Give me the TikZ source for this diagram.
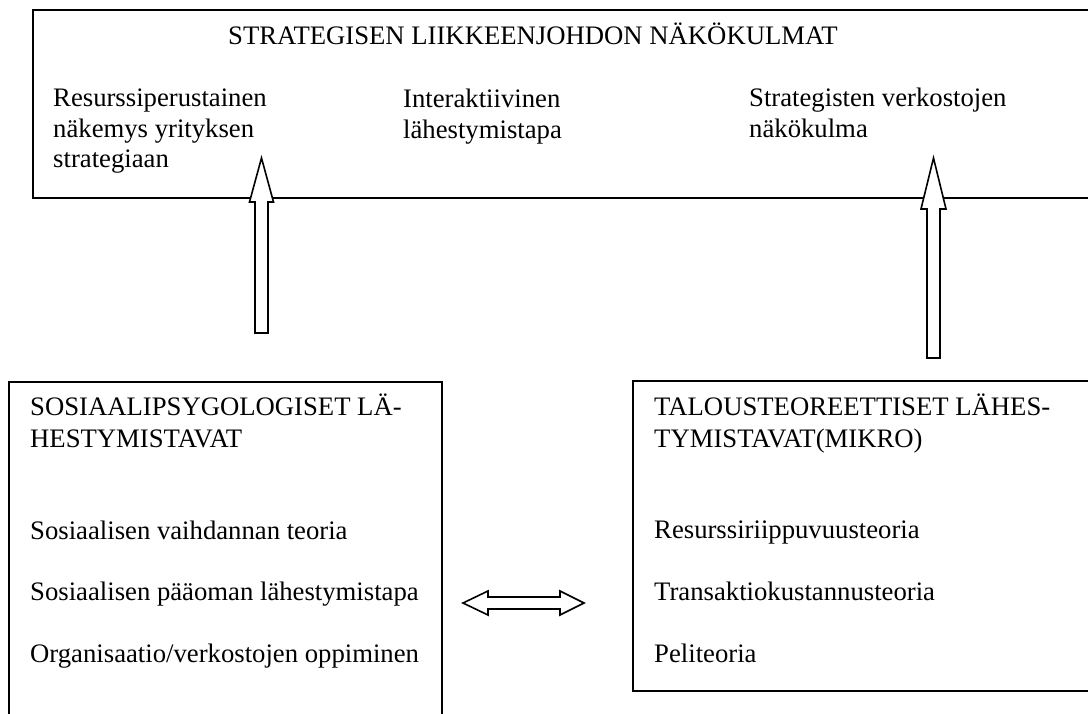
\documentclass[tikz,border=0pt]{standalone}
\usepackage{fontspec}
\setmainfont{Liberation Serif}
\usetikzlibrary{calc}
\begin{document}
\begin{tikzpicture}[x=1pt,y=-1pt,
  boxline/.style={draw=black,line width=1.8pt},
  blockarrow/.style={draw=black,fill=white,line width=1.6pt,line join=miter},
  txt/.style={anchor=base west,inner sep=0pt,font=\fontsize{26.7}{31}\selectfont}]
\useasboundingbox (0,0) rectangle (1088,713);
\clip (0,0) rectangle (1088,713);
\fill[white] (0,0) rectangle (1088,713);

% frames (the open sides run past the page edge)
\draw[boxline] (33,10) rectangle (1110,198);
\draw[boxline] (9,382) rectangle (442,730);
\draw[boxline] (633,381) rectangle (1110,691);

% upper box
\node[txt] (title) at (228,44) {STRATEGISEN LIIKKEENJOHDON NÄKÖKULMAT};
\node[txt] (rbv1) at (53,106) {Resurssiperustainen};
\node[txt] (rbv2) at (53,137) {näkemys yrityksen};
\node[txt] (rbv3) at (53,167) {strategiaan};
\node[txt] (int1) at (403,107) {Interaktiivinen};
\node[txt] (int2) at (403,138) {lähestymistapa};
\node[txt] (net1) at (749,106) {Strategisten verkostojen};
\node[txt] (net2) at (749,137) {näkökulma};

% lower left box
\node[txt] (sp1) at (30,415) {SOSIAALIPSYGOLOGISET LÄ-};
\node[txt] (sp2) at (30,447) {HESTYMISTAVAT};
\node[txt] (sp3) at (30,539) {Sosiaalisen vaihdannan teoria};
\node[txt] (sp4) at (30,600) {Sosiaalisen pääoman lähestymistapa};
\node[txt] (sp5) at (30,662) {Organisaatio/verkostojen oppiminen};

% lower right box
\node[txt] (tt1) at (654,415) {TALOUSTEOREETTISET LÄHES-};
\node[txt] (tt2) at (654,447) {TYMISTAVAT(MIKRO)};
\node[txt] (tt3) at (654,538) {Resurssiriippuvuusteoria};
\node[txt] (tt4) at (654,600) {Transaktiokustannusteoria};
\node[txt] (tt5) at (654,662) {Peliteoria};

% arrow end points
\coordinate (aL) at (261.5,333);
\coordinate (tL) at (261.5,158);
\coordinate (aR) at (933.5,358);
\coordinate (tR) at (933.5,158);
\coordinate (dL) at (463,603);
\coordinate (dR) at (584,603);

% hollow block arrows
\draw[blockarrow] ($(aL)+(-6.5,0)$) -- ($(tL)+(-6.5,44)$) -- ($(tL)+(-12,44)$)
  -- (tL) -- ($(tL)+(12,44)$) -- ($(tL)+(6.5,44)$) -- ($(aL)+(6.5,0)$) -- cycle;
\draw[blockarrow] ($(aR)+(-6.5,0)$) -- ($(tR)+(-6.5,51)$) -- ($(tR)+(-12.5,51)$)
  -- (tR) -- ($(tR)+(12.5,51)$) -- ($(tR)+(6.5,51)$) -- ($(aR)+(6.5,0)$) -- cycle;
\draw[blockarrow] (dL) -- ($(dL)+(25,-12)$) -- ($(dL)+(25,-6)$) -- ($(dR)+(-24,-6)$)
  -- ($(dR)+(-24,-12)$) -- (dR) -- ($(dR)+(-24,12)$) -- ($(dR)+(-24,6)$)
  -- ($(dL)+(25,6)$) -- ($(dL)+(25,12)$) -- cycle;
\end{tikzpicture}
\end{document}
